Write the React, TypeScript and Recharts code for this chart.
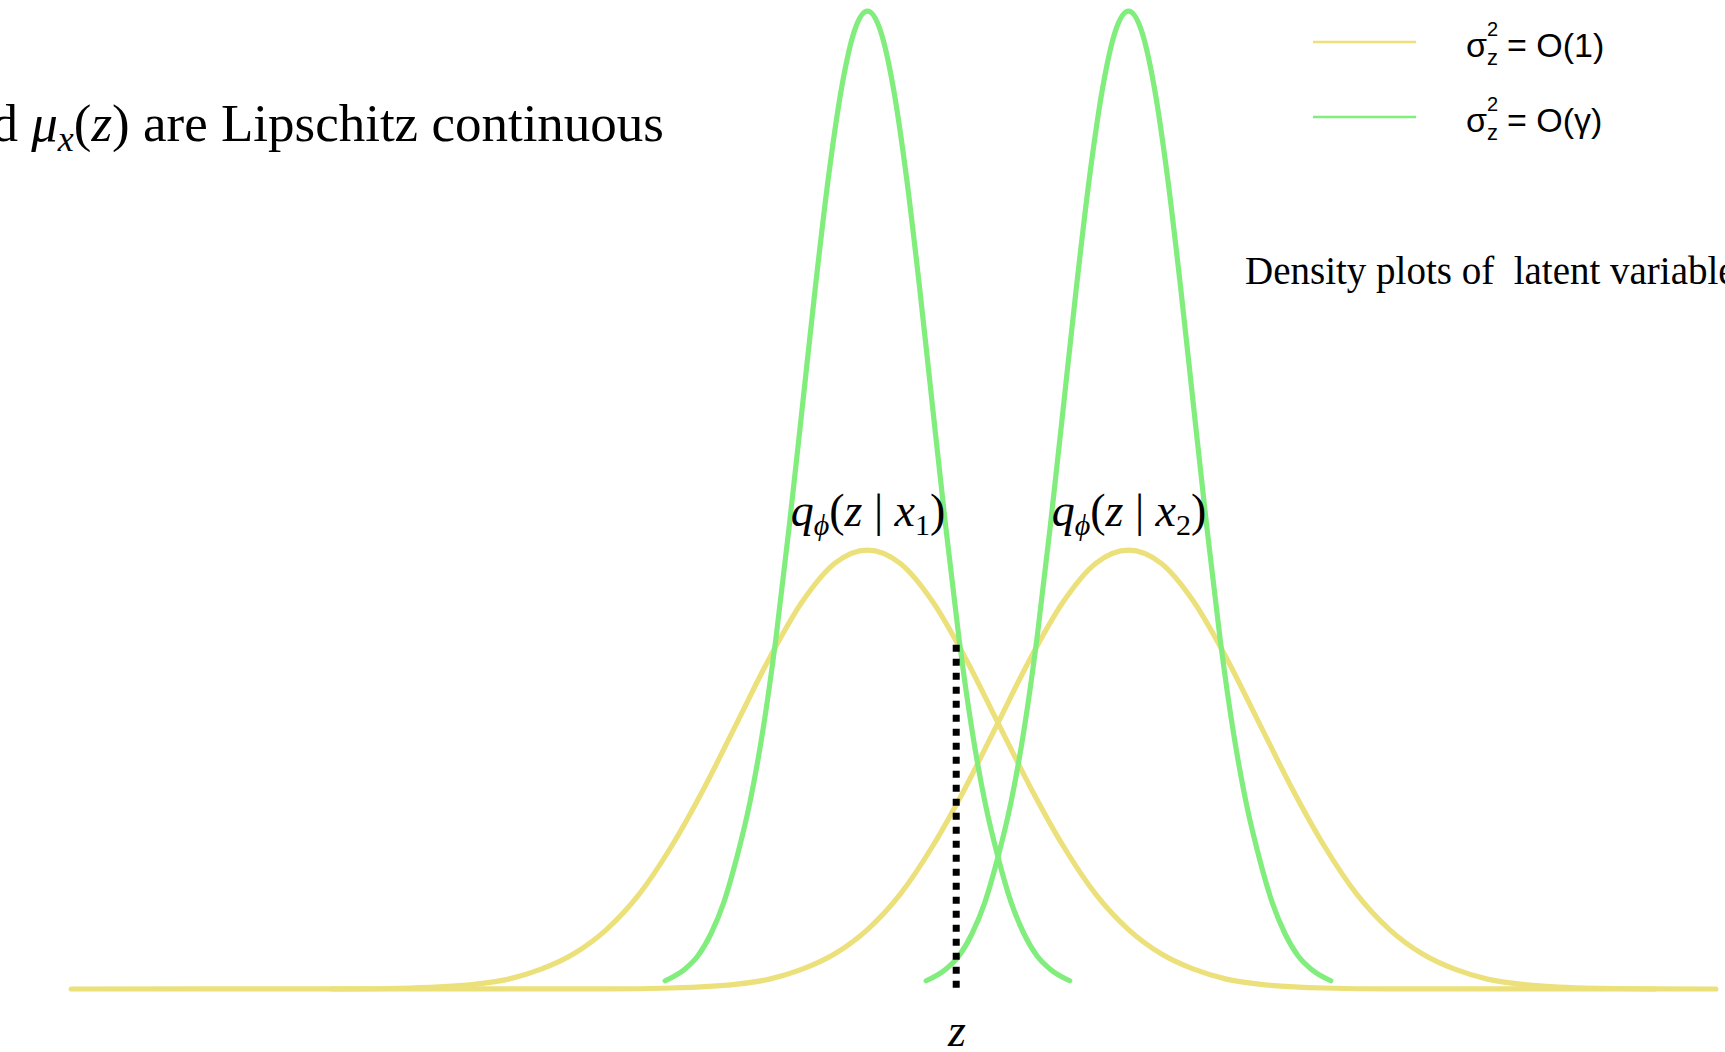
import React from 'react';
import { LineChart, Line, XAxis, YAxis } from 'recharts';

// ---- data (z on the x axis, density on the y axis) ----
const zYellowLeft = [-7.1, -5, -4.5, -4, -3.75, -3.5, -3.25, -3, -2.75, -2.5, -2.25, -2, -1.75, -1.5, -1.25, -1, -0.75, -0.5, -0.25, 0, 0.25, 0.5, 0.75, 1, 1.25, 1.5, 1.75, 2, 2.5, 3, 5.03];
const densityYellowLeft = [0, 0.0001, 0.0009, 0.0044, 0.009, 0.018, 0.032, 0.054, 0.086, 0.13, 0.183, 0.242, 0.301, 0.352, 0.387, 0.399, 0.387, 0.352, 0.301, 0.242, 0.183, 0.13, 0.086, 0.054, 0.032, 0.018, 0.009, 0.0044, 0.0009, 0.0001, 0];

const zYellowRight = [-5.1, -3, -2.5, -2, -1.75, -1.5, -1.25, -1, -0.75, -0.5, -0.25, 0, 0.25, 0.5, 0.75, 1, 1.25, 1.5, 1.75, 2, 2.25, 2.5, 2.75, 3, 3.25, 3.5, 3.75, 4, 4.5, 5, 5.5];
const densityYellowRight = [0, 0.0001, 0.0009, 0.0044, 0.009, 0.018, 0.032, 0.054, 0.086, 0.13, 0.183, 0.242, 0.301, 0.352, 0.387, 0.399, 0.387, 0.352, 0.301, 0.242, 0.183, 0.13, 0.086, 0.054, 0.032, 0.018, 0.009, 0.0044, 0.0009, 0.0001, 0];

const zGreenLeft = [-2.55, -2.4, -2.3, -2.2, -2.1, -2.0, -1.9, -1.8, -1.7, -1.6, -1.5, -1.4, -1.3, -1.2, -1.1, -1.0, -0.9, -0.8, -0.7, -0.6, -0.5, -0.4, -0.3, -0.2, -0.1, 0, 0.1, 0.2, 0.3, 0.4, 0.55];
const densityGreenLeft = [0.0075, 0.018, 0.03, 0.05, 0.079, 0.12, 0.17, 0.236, 0.32, 0.42, 0.528, 0.637, 0.737, 0.818, 0.871, 0.889, 0.871, 0.818, 0.737, 0.637, 0.528, 0.42, 0.32, 0.236, 0.17, 0.12, 0.079, 0.05, 0.03, 0.018, 0.0075];

const zGreenRight = [-0.55, -0.4, -0.3, -0.2, -0.1, 0, 0.1, 0.2, 0.3, 0.4, 0.5, 0.6, 0.7, 0.8, 0.9, 1.0, 1.1, 1.2, 1.3, 1.4, 1.5, 1.6, 1.7, 1.8, 1.9, 2.0, 2.1, 2.2, 2.3, 2.4, 2.55];
const densityGreenRight = [0.0075, 0.018, 0.03, 0.05, 0.079, 0.12, 0.17, 0.236, 0.32, 0.42, 0.528, 0.637, 0.737, 0.818, 0.871, 0.889, 0.871, 0.818, 0.737, 0.637, 0.528, 0.42, 0.32, 0.236, 0.17, 0.12, 0.079, 0.05, 0.03, 0.018, 0.0075];

const zCut = [-0.32, -0.32];
const densityCut = [0.313, 0];

const zDomain = [-7.6, 5.57];
const densityDomain = [0, 0.89];

const legendLabels = ['O(1)', 'O(γ)'];

// ---- styles ----
const YELLOW = '#EBE07A';
const GREEN = '#80ED7C';
const SERIF = '"Liberation Serif", "Times New Roman", serif';
const SANS = '"Liberation Sans", Arial, sans-serif';

const toRows = (zs: number[], ds: number[]) => zs.map((z, i) => ({ z, density: ds[i] }));

const yellowLeft = toRows(zYellowLeft, densityYellowLeft);
const yellowRight = toRows(zYellowRight, densityYellowRight);
const greenLeft = toRows(zGreenLeft, densityGreenLeft);
const greenRight = toRows(zGreenRight, densityGreenRight);
const cutLine = toRows(zCut, densityCut);

const QLabel = ({ x, idx }: { x: number; idx: string }) => (
  <text x={x} y={526} textAnchor="middle" fontFamily={SERIF} fontSize={46} fill="#000">
    <tspan fontStyle="italic">q</tspan>
    <tspan fontStyle="italic" fontSize={30} dy={9}>ϕ</tspan>
    <tspan dy={-9}>(</tspan>
    <tspan fontStyle="italic">z</tspan>
    <tspan> | </tspan>
    <tspan fontStyle="italic">x</tspan>
    <tspan fontSize={30} dy={9}>{idx}</tspan>
    <tspan dy={-9}>)</tspan>
  </text>
);

const LegendRow = ({ y, color, label }: { y: number; color: string; label: string }) => (
  <g>
    <line x1={1313} x2={1416} y1={y} y2={y} stroke={color} strokeWidth={2.5} />
    <text x={1466} y={y + 15} fontFamily={SANS} fontSize={34} fill="#000">σ</text>
    <text x={1487} y={y - 6} fontFamily={SANS} fontSize={20} fill="#000">2</text>
    <text x={1487} y={y + 23} fontFamily={SANS} fontSize={22} fill="#000">z</text>
    <text x={1507} y={y + 15} fontFamily={SANS} fontSize={34} fill="#000">{'= ' + label}</text>
  </g>
);

export default function App() {
  return (
    <div style={{ position: 'absolute', left: 0, top: 0, width: 1725, height: 1052, background: '#fff', overflow: 'hidden' }}>
      <LineChart width={1725} height={1052} margin={{ top: 10, right: 0, left: 6, bottom: 63 }}>
        <XAxis
          type="number"
          dataKey="z"
          domain={zDomain}
          height={0}
          tick={false}
          tickLine={false}
          axisLine={{ stroke: '#F2F2F2', strokeWidth: 2 }}
        />
        <YAxis type="number" dataKey="density" domain={densityDomain} hide />
        <Line data={yellowLeft} dataKey="density" type="monotone" stroke={YELLOW} strokeWidth={5.2} strokeLinecap="round" dot={false} activeDot={false} isAnimationActive={false} />
        <Line data={yellowRight} dataKey="density" type="monotone" stroke={YELLOW} strokeWidth={5.2} strokeLinecap="round" dot={false} activeDot={false} isAnimationActive={false} />
        <Line data={greenLeft} dataKey="density" type="monotone" stroke={GREEN} strokeWidth={5.2} strokeLinecap="round" dot={false} activeDot={false} isAnimationActive={false} />
        <Line data={greenRight} dataKey="density" type="monotone" stroke={GREEN} strokeWidth={5.2} strokeLinecap="round" dot={false} activeDot={false} isAnimationActive={false} />
        <Line data={cutLine} dataKey="density" type="linear" stroke="#000" strokeWidth={7} strokeDasharray="7 7" dot={false} activeDot={false} isAnimationActive={false} />
      </LineChart>
      <svg width={1725} height={1052} style={{ position: 'absolute', left: 0, top: 0, pointerEvents: 'none' }}>
        <text x={664} y={141} textAnchor="end" fontFamily={SERIF} fontSize={53} fill="#000">
          <tspan>d </tspan>
          <tspan fontStyle="italic">μ</tspan>
          <tspan fontStyle="italic" fontSize={36} dy={10}>x</tspan>
          <tspan dy={-10}>(</tspan>
          <tspan fontStyle="italic">z</tspan>
          <tspan>) are Lipschitz continuous</tspan>
        </text>
        <text x={1245} y={284} fontFamily={SERIF} fontSize={39} fill="#000" style={{ whiteSpace: 'pre' }}>
          {'Density plots of  latent variables'}
        </text>
        <QLabel x={868} idx="1" />
        <QLabel x={1129} idx="2" />
        <text x={957} y={1046} textAnchor="middle" fontFamily={SERIF} fontStyle="italic" fontSize={46} fill="#000">z</text>
        <LegendRow y={42} color={YELLOW} label={legendLabels[0]} />
        <LegendRow y={117} color={GREEN} label={legendLabels[1]} />
      </svg>
    </div>
  );
}
